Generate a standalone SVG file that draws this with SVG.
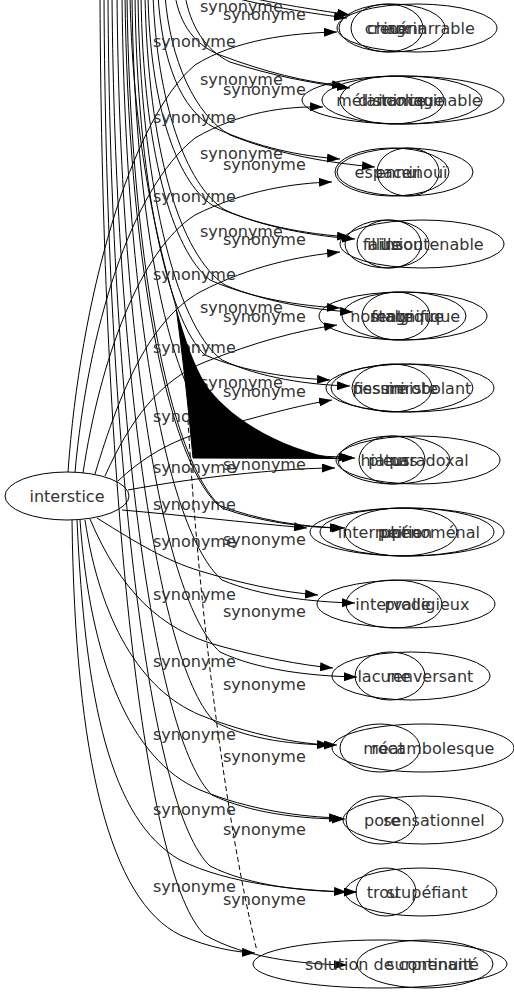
<svg xmlns="http://www.w3.org/2000/svg" width="514" height="995" viewBox="0 0 514 995">
<defs>
<style>
.e{fill:none;stroke:#000;stroke-width:1}
.d{fill:none;stroke:#000;stroke-width:1;stroke-dasharray:5,3}
.n{fill:none;stroke:#000;stroke-width:1}
.t{font-family:"DejaVu Sans",sans-serif;font-size:16px;fill:#333;text-anchor:middle}
.l{font-family:"DejaVu Sans",sans-serif;font-size:16px;fill:#333}
</style>
<marker id="ah" viewBox="0 0 13 9" refX="13" refY="4.5" markerWidth="13" markerHeight="9" markerUnits="userSpaceOnUse" orient="auto"><path d="M0,0 L13,4.5 L0,9 Z" fill="#000"/></marker>
</defs>
<rect width="514" height="995" fill="#fff"/>
<g id="edges" marker-end="url(#ah)">
<path class="e" d="M68,472 C80,300 130,120 195,65 C235,40 290,33 337,32"/>
<path class="e" d="M75,472 C88,330 130,190 195,138 C240,112 285,106 323,107"/>
<path class="e" d="M83,473 C100,360 140,250 195,215 C245,190 295,183 332,182"/>
<path class="e" d="M95,474 C120,390 150,320 200,292 C250,266 300,256 340,252"/>
<path class="e" d="M105,476 C130,420 160,380 205,362 C255,342 300,330 337,325"/>
<path class="e" d="M118,481 C140,460 170,440 210,430 C260,416 300,405 332,400"/>
<path class="e" d="M128,490 C160,484 200,478 240,474 C280,470 310,468 335,468"/>
<path class="e" d="M122,510 C180,515 240,522 307,528"/>
<path class="e" d="M97,518 C140,545 165,560 200,571 C240,583 280,592 318,595"/>
<path class="e" d="M90,519 C120,590 160,630 220,646 C260,657 300,665 333,668"/>
<path class="e" d="M85,520 C100,620 140,690 200,715 C250,735 300,744 330,745"/>
<path class="e" d="M80,520 C90,660 130,760 200,790 C250,810 300,817 342,818"/>
<path class="e" d="M77,520 C85,700 110,820 180,860 C230,885 300,890 347,892"/>
<path class="e" d="M72,520 C75,760 110,900 180,935 C210,948 235,952 255,953"/>
<path class="e" d="M240,-5 C265,2 310,9 350,15"/>
<path class="e" d="M185,-5 C190,25 205,50 230,62 C270,75 310,83 350,88"/>
<path class="e" d="M165,-5 C170,60 195,115 230,135 C280,155 330,163 375,167"/>
<path class="e" d="M153,-5 C157,100 185,185 225,210 C265,228 315,236 355,239"/>
<path class="e" d="M145,-5 C148,150 180,255 225,285 C265,302 315,310 353,312"/>
<path class="e" d="M138,-5 C140,180 175,325 222,360 C260,378 310,385 350,386"/>
<path class="e" d="M132,-5 C134,220 170,400 222,437 C260,452 310,457 352,457"/>
<path class="e" d="M127,-5 C130,250 168,460 222,508 C260,522 305,528 345,528"/>
<path class="e" d="M122,-5 C125,300 165,530 222,580 C260,596 310,602 355,603"/>
<path class="e" d="M117,-5 C120,340 162,600 220,652 C258,670 310,676 357,677"/>
<path class="e" d="M112,-5 C115,380 160,670 215,722 C250,740 295,745 337,745"/>
<path class="e" d="M108,-5 C110,420 155,740 212,795 C250,813 300,819 345,819"/>
<path class="e" d="M104,-5 C106,460 150,810 210,866 C250,886 305,892 357,892"/>
<path class="e" d="M100,-5 C102,500 145,880 205,935 C245,958 300,964 347,965"/>
<path class="e" d="M225,-5 C250,3 300,12 347,18"/>
<path class="e" d="M175,-5 C180,25 195,45 220,55 C265,72 305,82 345,86"/>
<path class="e" d="M158,-5 C162,60 180,110 215,128 C260,148 300,156 340,159"/>
<path class="e" d="M148,-5 C150,100 175,180 212,205 C255,225 305,234 350,237"/>
<path class="e" d="M141,-5 C143,150 172,250 210,280 C250,298 300,306 340,308"/>
<path class="e" d="M135,-5 C137,180 167,320 205,355 C245,372 290,378 330,380"/>
<path class="e" d="M130,-5 C133,150 160,250 176,307 Q186,380 193,458 L355,458"/>
<path class="e" d="M125,-5 C128,250 165,455 218,505 C258,520 300,527 343,528"/>
<path class="d" marker-end="none" d="M188,420 C198,600 225,820 257,951"/>
</g>
<g id="edge-labels-a">
<text class="l" x="153" y="47">synonyme</text>
<text class="l" x="153" y="123">synonyme</text>
<text class="l" x="153" y="202">synonyme</text>
<text class="l" x="153" y="280">synonyme</text>
<text class="l" x="153" y="353">synonyme</text>
<text class="l" x="153" y="422">synonyme</text>
<text class="l" x="153" y="473">synonyme</text>
<text class="l" x="153" y="510">synonyme</text>
<text class="l" x="153" y="547">synonyme</text>
<text class="l" x="153" y="600">synonyme</text>
<text class="l" x="153" y="667">synonyme</text>
<text class="l" x="153" y="740">synonyme</text>
<text class="l" x="153" y="815">synonyme</text>
<text class="l" x="153" y="892">synonyme</text>
</g>
<g id="edge-labels-b">
<text class="l" x="200" y="12">synonyme</text>
<text class="l" x="200" y="85">synonyme</text>
<text class="l" x="200" y="159">synonyme</text>
<text class="l" x="200" y="237">synonyme</text>
<text class="l" x="200" y="313">synonyme</text>
<text class="l" x="200" y="388">synonyme</text>
</g>
<g id="edge-fill">
<path d="M176,307 Q186,380 193,458 L340,459 C280,450 225,415 205,383 C195,367 185,340 176,307 Z" fill="#000"/>
</g>
<g id="edge-labels-c">
<text class="l" x="223" y="20">synonyme</text>
<text class="l" x="223" y="95">synonyme</text>
<text class="l" x="223" y="170">synonyme</text>
<text class="l" x="223" y="245">synonyme</text>
<text class="l" x="223" y="322">synonyme</text>
<text class="l" x="223" y="397">synonyme</text>
<text class="l" x="223" y="470">synonyme</text>
<text class="l" x="223" y="545">synonyme</text>
<text class="l" x="223" y="617">synonyme</text>
<text class="l" x="223" y="690">synonyme</text>
<text class="l" x="223" y="762">synonyme</text>
<text class="l" x="223" y="835">synonyme</text>
<text class="l" x="223" y="905">synonyme</text>
</g>
<g id="node-interstice"><ellipse class="n" cx="67" cy="496" rx="62" ry="24"/><text class="t" x="67" y="502">interstice</text></g>
<g id="node-creux"><ellipse class="n" cx="387" cy="28" rx="36" ry="24"/><text class="t" x="387" y="34">creux</text></g>
<g id="node-chagrin"><ellipse class="n" cx="392" cy="28" rx="53" ry="24"/><text class="t" x="397" y="34">chagrin</text></g>
<g id="node-inenarrable"><ellipse class="n" cx="417" cy="28" rx="80" ry="24"/><text class="t" x="429" y="34">inénarrable</text></g>
<g id="node-distance"><ellipse class="n" cx="392" cy="100" rx="52" ry="24"/><text class="t" x="392" y="106">distance</text></g>
<g id="node-melancolique"><ellipse class="n" cx="403" cy="100" rx="101" ry="24"/><text class="t" x="390" y="106">mélancolique</text></g>
<g id="node-inimaginable"><ellipse class="n" cx="402" cy="100" rx="80" ry="24"/><text class="t" x="430" y="106">inimaginable</text></g>
<g id="node-espace"><ellipse class="n" cx="392" cy="172" rx="57" ry="24"/><text class="t" x="383" y="178">espace</text></g>
<g id="node-ennui"><ellipse class="n" cx="408" cy="172" rx="31" ry="24"/><text class="t" x="398" y="178">ennui</text></g>
<g id="node-inoui"><ellipse class="n" cx="405" cy="172" rx="68" ry="24"/><text class="t" x="428" y="178">inouï</text></g>
<g id="node-faille"><ellipse class="n" cx="389" cy="244" rx="32" ry="24"/><text class="t" x="382" y="250">faille</text></g>
<g id="node-illusion"><ellipse class="n" cx="387" cy="244" rx="42" ry="24"/><text class="t" x="395" y="250">illusion</text></g>
<g id="node-insoutenable"><ellipse class="n" cx="422" cy="244" rx="82" ry="24"/><text class="t" x="432" y="250">insoutenable</text></g>
<g id="node-fente"><ellipse class="n" cx="396" cy="316" rx="34" ry="24"/><text class="t" x="392" y="322">fente</text></g>
<g id="node-nostalgique"><ellipse class="n" cx="403" cy="316" rx="84" ry="24"/><text class="t" x="397" y="322">nostalgique</text></g>
<g id="node-magnifique"><ellipse class="n" cx="404" cy="316" rx="62" ry="24"/><text class="t" x="415" y="322">magnifique</text></g>
<g id="node-fissure"><ellipse class="n" cx="392" cy="388" rx="40" ry="24"/><text class="t" x="380" y="394">fissure</text></g>
<g id="node-pessimiste"><ellipse class="n" cx="402" cy="388" rx="71" ry="24"/><text class="t" x="395" y="394">pessimiste</text></g>
<g id="node-mirobolant"><ellipse class="n" cx="410" cy="388" rx="84" ry="24"/><text class="t" x="428" y="394">mirobolant</text></g>
<g id="node-hiatus"><ellipse class="n" cx="392" cy="460" rx="33" ry="24"/><text class="t" x="385" y="466">hiatus</text></g>
<g id="node-pleurs"><ellipse class="n" cx="394" cy="460" rx="56" ry="24"/><text class="t" x="393" y="466">pleurs</text></g>
<g id="node-paradoxal"><ellipse class="n" cx="418" cy="460" rx="82" ry="24"/><text class="t" x="429" y="466">paradoxal</text></g>
<g id="node-interruption"><ellipse class="n" cx="407" cy="532" rx="97" ry="24"/><text class="t" x="385" y="538">interruption</text></g>
<g id="node-peine"><ellipse class="n" cx="401" cy="532" rx="56" ry="24"/><text class="t" x="400" y="538">peine</text></g>
<g id="node-phenomenal"><ellipse class="n" cx="407" cy="532" rx="87" ry="24"/><text class="t" x="430" y="538">phénoménal</text></g>
<g id="node-intervalle"><ellipse class="n" cx="394" cy="604" rx="48" ry="24"/><text class="t" x="393" y="610">intervalle</text></g>
<g id="node-prodigieux"><ellipse class="n" cx="406" cy="604" rx="89" ry="24"/><text class="t" x="427" y="610">prodigieux</text></g>
<g id="node-lacune"><ellipse class="n" cx="390" cy="676" rx="35" ry="24"/><text class="t" x="384" y="682">lacune</text></g>
<g id="node-renversant"><ellipse class="n" cx="411" cy="676" rx="79" ry="24"/><text class="t" x="430" y="682">renversant</text></g>
<g id="node-meat"><ellipse class="n" cx="380" cy="748" rx="40" ry="24"/><text class="t" x="384" y="754">méat</text></g>
<g id="node-rocambolesque"><ellipse class="n" cx="423" cy="748" rx="91" ry="24"/><text class="t" x="433" y="754">rocambolesque</text></g>
<g id="node-pore"><ellipse class="n" cx="381" cy="820" rx="35" ry="24"/><text class="t" x="382" y="826">pore</text></g>
<g id="node-sensationnel"><ellipse class="n" cx="423" cy="820" rx="80" ry="24"/><text class="t" x="434" y="826">sensationnel</text></g>
<g id="node-trou"><ellipse class="n" cx="386" cy="892" rx="30" ry="24"/><text class="t" x="383" y="898">trou</text></g>
<g id="node-stupefiant"><ellipse class="n" cx="421" cy="892" rx="76" ry="24"/><text class="t" x="427" y="898">stupéfiant</text></g>
<g id="node-solution"><ellipse class="n" cx="380" cy="964" rx="127" ry="24"/><text class="t" x="392" y="970">solution de continuité</text></g>
<g id="node-surprenant"><ellipse class="n" cx="425" cy="964" rx="68" ry="24"/><text class="t" x="430" y="970">surprenant</text></g>
</svg>
